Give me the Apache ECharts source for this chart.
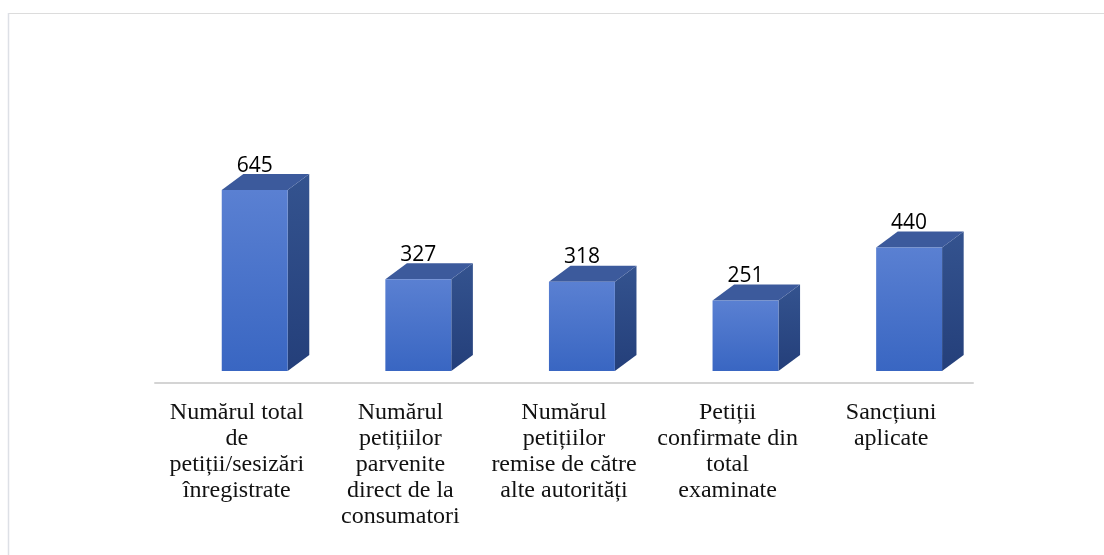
<!DOCTYPE html>
<html>
<head>
    <meta charset="utf-8" />
    <title></title>
    <script src="https://cdn.jsdelivr.net/npm/echarts@6.0.0/dist/echarts.min.js"></script>
    <style>
        * { margin: 0; padding: 0; box-sizing: border-box; }
        body { background: #fff; }
        #chart { width: 1104px; height: 555px; }
    </style>
</head>
<body>
    <div id="chart"></div>
    <script>
        // categories and values
        const categories = [
            'Numărul total\nde\npetiții/sesizări\nînregistrate',
            'Numărul\npetițiilor\nparvenite\ndirect de la\nconsumatori',
            'Numărul\npetițiilor\nremise de către\nalte autorități',
            'Petiții\nconfirmate din\ntotal\nexaminate',
            'Sancțiuni\naplicate'
        ];
        const values = [645, 327, 318, 251, 440];

        const chart = echarts.init(document.getElementById('chart'));

        // draw a pseudo-3D box for each value
        function renderBox(params, api) {
            const idx = api.value(0);
            const val = api.value(1);
            const top = api.coord([idx, val]);
            const base = api.coord([idx, 0]);
            const band = api.size([1, 0])[0];
            const x0 = top[0] - band * 0.092;
            const w = band * 0.403;
            const dx = band * 0.132;
            const dy = -16;
            const yt = top[1], yb = base[1];

            return {
                type: 'group',
                children: [
                    {
                        type: 'polygon',
                        shape: { points: [[x0 + w, yt], [x0 + w + dx, yt + dy], [x0 + w + dx, yb + dy], [x0 + w, yb]] },
                        style: {
                            fill: new echarts.graphic.LinearGradient(0, 0, 0, 1, [
                                { offset: 0, color: '#34538f' },
                                { offset: 1, color: '#243f7a' }
                            ])
                        }
                    },
                    {
                        type: 'polygon',
                        shape: { points: [[x0, yt], [x0 + dx, yt + dy], [x0 + w + dx, yt + dy], [x0 + w, yt]] },
                        style: { fill: '#3c5a9c' }
                    },
                    {
                        type: 'rect',
                        shape: { x: x0, y: yt, width: w, height: yb - yt },
                        style: {
                            fill: new echarts.graphic.LinearGradient(0, 0, 0, 1, [
                                { offset: 0, color: '#5a80d2' },
                                { offset: 1, color: '#3966c2' }
                            ])
                        }
                    },
                    {
                        type: 'text',
                        x: x0 + w / 2,
                        y: yt + dy + 2,
                        style: {
                            text: String(val),
                            fill: '#000',
                            font: '21px "Open Sans", sans-serif',
                            align: 'center',
                            verticalAlign: 'bottom'
                        }
                    }
                ]
            };
        }

        const option = {
            animation: false,
            grid: {
                left: 155,
                right: 131,
                top: 174.6,
                bottom: 184
            },
            xAxis: {
                type: 'category',
                data: categories,
                offset: 12,
                axisLine: { onZero: false, lineStyle: { color: '#d4d4d4', width: 2 } },
                axisTick: { show: false },
                axisLabel: {
                    interval: 0,
                    margin: 17,
                    color: '#111',
                    fontFamily: '"Liberation Serif", serif',
                    fontSize: 24,
                    lineHeight: 26
                }
            },
            yAxis: {
                type: 'value',
                min: 0,
                max: 700,
                show: false
            },
            series: [{
                type: 'custom',
                renderItem: renderBox,
                data: values.map((v, i) => [i, v])
            }],
            graphic: [
                { type: 'line', shape: { x1: 8, y1: 13.5, x2: 1104, y2: 13.5 }, style: { stroke: '#dcdcdc', lineWidth: 1 } },
                { type: 'line', shape: { x1: 8.5, y1: 13, x2: 8.5, y2: 555 }, style: { stroke: '#dde0e6', lineWidth: 1.5 } }
            ]
        };

        chart.setOption(option);
    </script>
</body>
</html>
